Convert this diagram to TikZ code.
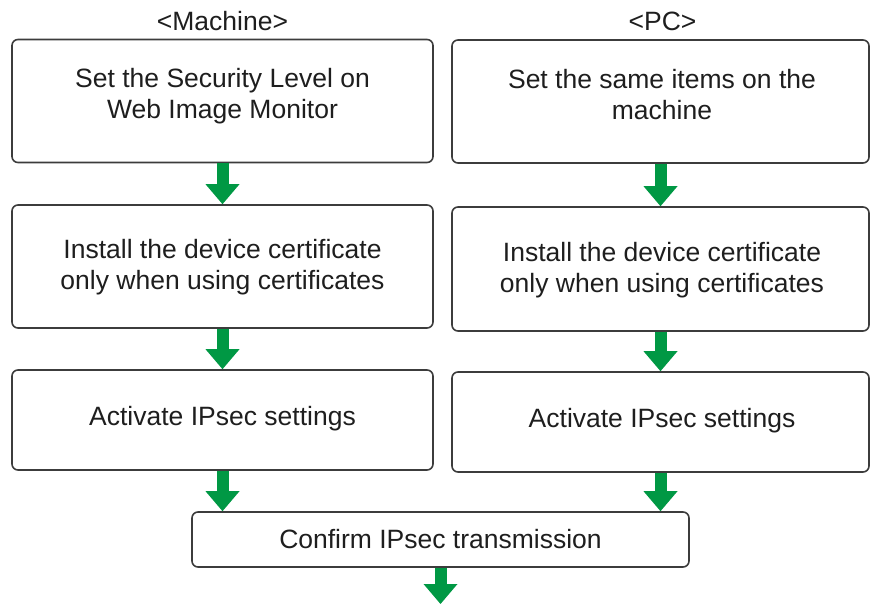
\documentclass[tikz,border=0pt]{standalone}
\usepackage{fontspec}
\setmainfont{Liberation Sans}
\usetikzlibrary{arrows.meta}
\definecolor{flowgreen}{RGB}{0,152,68}
\definecolor{boxline}{RGB}{60,60,60}
\definecolor{txtcol}{RGB}{30,30,30}
\begin{document}
\begin{tikzpicture}[x=1pt,y=-1pt,
  box/.style={draw=boxline, line width=1.6pt, rounded corners=6pt, fill=white, inner sep=0pt},
  txt/.style={font=\fontsize{26.5}{31}\selectfont, text=txtcol, align=center, inner sep=0pt, anchor=base},
  flow/.style={draw=flowgreen, line width=12pt, -{Triangle[width=34pt,length=20pt,line width=0pt]}}
]
\useasboundingbox (0,0) rectangle (870,604);
% headers
\node[txt] (hm) at (222.5,30.5) {<Machine>};
\node[txt] (hp) at (662.5,30.5) {<PC>};
% left column
\node[box, minimum width=421pt, minimum height=123pt] (m1) at (222.5,101) {};
\node[box, minimum width=421pt, minimum height=123pt] (m2) at (222.5,266.5) {};
\node[box, minimum width=421pt, minimum height=100pt] (m3) at (222.5,420) {};
% right column
\node[box, minimum width=417pt, minimum height=123pt] (p1) at (660.5,101.5) {};
\node[box, minimum width=417pt, minimum height=124pt] (p2) at (660.5,269) {};
\node[box, minimum width=417pt, minimum height=100pt] (p3) at (660.5,422) {};
% confirm
\node[box, minimum width=497pt, minimum height=55pt] (cf) at (440.5,539.5) {};
% texts (base anchor = baseline of the last line)
\node[txt] (t1) at (222.5,118.5) {Set the Security Level on\\Web Image Monitor};
\node[txt] (t2) at (222.5,289.5) {Install the device certificate\\only when using certificates};
\node[txt] (t3) at (222.5,425) {Activate IPsec settings};
\node[txt] (u1) at (662,120) {Set the same items on the\\machine};
\node[txt] (u2) at (662,292) {Install the device certificate\\only when using certificates};
\node[txt] (u3) at (662,427) {Activate IPsec settings};
\node[txt] (tc) at (440.5,548) {Confirm IPsec transmission};
% arrows
\draw[flow] (m1.south) -- (m2.north);
\draw[flow] (m2.south) -- (m3.north);
\draw[flow] (m3.south) -- (m3.south |- cf.north);
\draw[flow] (p1.south) -- (p2.north);
\draw[flow] (p2.south) -- (p3.north);
\draw[flow] (p3.south) -- (p3.south |- cf.north);
\coordinate (end) at (440.5,604);
\draw[flow] (cf.south) -- (end);
\end{tikzpicture}
\end{document}
